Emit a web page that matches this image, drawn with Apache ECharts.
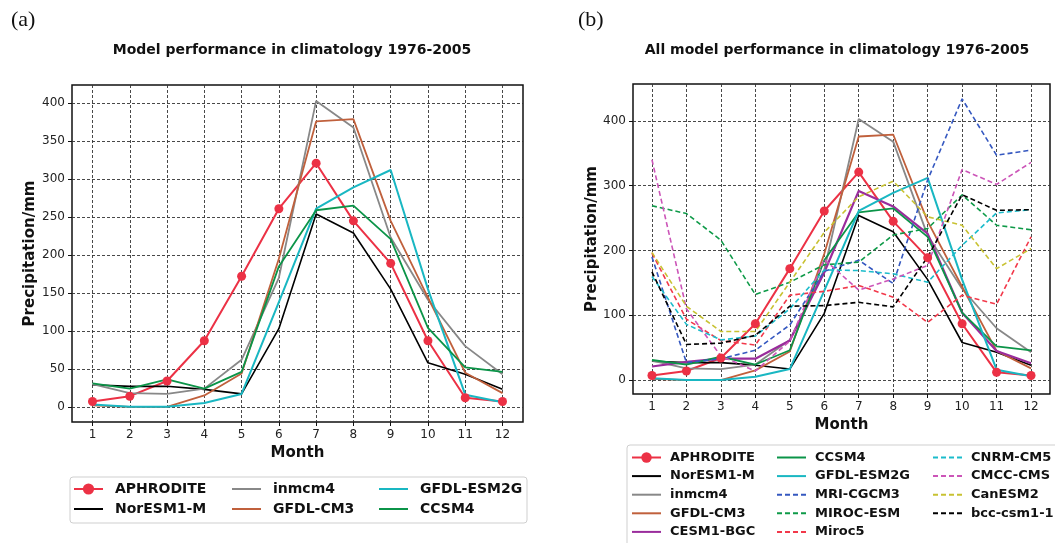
<!DOCTYPE html>
<html>
<head>
<meta charset="utf-8">
<script src="https://cdn.jsdelivr.net/npm/echarts@6/dist/echarts.min.js"></script>
<style>
  html, body { margin: 0; padding: 0; background: #fff; }
  #chart { width: 1055px; height: 543px; }
</style>
</head>
<body>
<div id="chart"></div>
<script>
// monthly climatology 1976-2005, precipitation in mm
const months = [1, 2, 3, 4, 5, 6, 7, 8, 9, 10, 11, 12];
const yTicksA = [0, 50, 100, 150, 200, 250, 300, 350, 400];
const yTicksB = [0, 100, 200, 300, 400];

const aphrodite = [7, 14, 34, 87, 172, 261, 321, 245, 189, 87, 12, 7];
const noresm1m = [29, 27, 27, 23, 17, 103, 254, 229, 155, 58, 43, 23];
const inmcm4 = [30, 18, 17, 24, 62, 170, 403, 368, 223, 141, 80, 43];
const gfdlcm3 = [2, 0, 0, 15, 44, 195, 376, 379, 245, 144, 45, 18];
const gfdlesm2g = [3, 0, 0, 5, 17, 138, 261, 289, 312, 155, 16, 6];
const ccsm4 = [31, 24, 36, 24, 46, 185, 259, 265, 221, 104, 52, 46];
const cesm1bgc = [21, 28, 33, 33, 61, 166, 292, 268, 226, 104, 45, 26];
const mricgcm3 = [190, 27, 33, 46, 85, 168, 185, 149, 309, 434, 347, 355];
const mirocesm = [269, 257, 216, 132, 151, 178, 182, 224, 234, 286, 239, 232];
const miroc5 = [196, 94, 61, 54, 131, 137, 146, 128, 89, 131, 117, 221];
const cnrmcm5 = [160, 86, 62, 68, 110, 170, 169, 164, 151, 208, 258, 263];
const cmcccms = [340, 110, 37, 14, 60, 186, 139, 156, 177, 325, 302, 336];
const canesm2 = [197, 114, 75, 75, 151, 228, 283, 307, 252, 239, 172, 203];
const bcccsm11 = [167, 55, 57, 69, 114, 115, 120, 113, 190, 286, 262, 263];

const chart = echarts.init(document.getElementById('chart'));

const FONT = 'DejaVu Sans';
const gridLine = { show: true, lineStyle: { color: '#333', width: 0.9, type: [3, 2] } };

const pairs = (vals) => months.map((m, i) => [m, vals[i]]);

// style of each model line
const models = {
  'APHRODITE': { data: aphrodite, color: '#ec3145', width: 2, type: 'solid', marker: true },
  'NorESM1-M': { data: noresm1m, color: '#000000', width: 1.6, type: 'solid' },
  'inmcm4': { data: inmcm4, color: '#888888', width: 1.8, type: 'solid' },
  'GFDL-CM3': { data: gfdlcm3, color: '#c0603c', width: 1.8, type: 'solid' },
  'GFDL-ESM2G': { data: gfdlesm2g, color: '#19b7c2', width: 2, type: 'solid' },
  'CCSM4': { data: ccsm4, color: '#0b9448', width: 1.8, type: 'solid' },
  'CESM1-BGC': { data: cesm1bgc, color: '#9a2c9c', width: 2.2, type: 'solid' },
  'MRI-CGCM3': { data: mricgcm3, color: '#3558c0', width: 1.6, type: [5, 3] },
  'MIROC-ESM': { data: mirocesm, color: '#0e9a48', width: 1.6, type: [5, 3] },
  'Miroc5': { data: miroc5, color: '#f2384a', width: 1.6, type: [5, 3] },
  'CNRM-CM5': { data: cnrmcm5, color: '#1bbccb', width: 1.6, type: [5, 3] },
  'CMCC-CMS': { data: cmcccms, color: '#cc55b8', width: 1.6, type: [5, 3] },
  'CanESM2': { data: canesm2, color: '#c8c232', width: 1.6, type: [5, 3] },
  'bcc-csm1-1': { data: bcccsm11, color: '#000000', width: 1.6, type: [5, 3] }
};

const leftNames = ['APHRODITE', 'NorESM1-M', 'inmcm4', 'GFDL-CM3', 'GFDL-ESM2G', 'CCSM4'];
const rightNames = ['APHRODITE', 'NorESM1-M', 'inmcm4', 'GFDL-CM3', 'CESM1-BGC', 'CCSM4',
  'GFDL-ESM2G', 'MRI-CGCM3', 'MIROC-ESM', 'Miroc5', 'CNRM-CM5', 'CMCC-CMS', 'CanESM2', 'bcc-csm1-1'];

function makeSeries(name, idx) {
  const m = models[name];
  return {
    name: name,
    type: 'line',
    xAxisIndex: idx,
    yAxisIndex: idx,
    data: pairs(m.data),
    symbol: m.marker ? 'circle' : 'none',
    symbolSize: 9,
    showSymbol: !!m.marker,
    itemStyle: { color: m.color },
    lineStyle: { color: m.color, width: m.width, type: m.type },
    emphasis: { disabled: true },
    animation: false
  };
}

function xAxis(idx, gap) {
  return {
    type: 'value', gridIndex: idx, min: 0.45, max: 12.55,
    name: 'Month', nameLocation: 'middle', nameGap: gap,
    nameTextStyle: { fontFamily: FONT, fontWeight: 'bold', fontSize: 15, color: '#111' },
    axisLine: { show: false, onZero: false },
    axisTick: { show: true, customValues: months, length: 4, lineStyle: { color: '#111' } },
    axisLabel: { customValues: months, fontFamily: FONT, fontSize: 12, color: '#222', margin: 7 },
    splitLine: gridLine
  };
}

function yAxis(idx, min, max, ticks, gap) {
  return {
    type: 'value', gridIndex: idx, min: min, max: max,
    name: 'Precipitation/mm', nameLocation: 'middle', nameGap: gap,
    nameTextStyle: { fontFamily: FONT, fontWeight: 'bold', fontSize: 15, color: '#111' },
    axisLine: { show: false },
    axisTick: { show: true, customValues: ticks, length: 4, lineStyle: { color: '#111' } },
    axisLabel: { customValues: ticks, fontFamily: FONT, fontSize: 12, color: '#222', margin: 7 },
    splitLine: gridLine
  };
}

// one legend per column, so the entries run down the columns like matplotlib does
function legendCol(left, top, names, size, itemH, gap, textPad) {
  return {
    orient: 'vertical', left: left, top: top, padding: 0, height: 200,
    data: names.map((n) => models[n].marker ? n : { name: n, itemStyle: { opacity: 0 } }),
    itemWidth: 29, itemHeight: itemH, itemGap: gap, selectedMode: false,
    textStyle: { fontFamily: FONT, fontWeight: 'bold', fontSize: size, color: '#111', padding: [0, 0, 0, textPad] }
  };
}

const option = {
  backgroundColor: '#fff',
  animation: false,
  title: [
    { text: '(a)', left: 6, top: 4, textStyle: { fontFamily: 'Liberation Serif', fontWeight: 'normal', fontSize: 22, color: '#111' } },
    { text: '(b)', left: 573, top: 4, textStyle: { fontFamily: 'Liberation Serif', fontWeight: 'normal', fontSize: 22, color: '#111' } },
    { text: 'Model performance in climatology 1976-2005', left: 287, top: 38, textAlign: 'center',
      textStyle: { fontFamily: FONT, fontWeight: 'bold', fontSize: 14, color: '#111' } },
    { text: 'All model performance in climatology 1976-2005', left: 832, top: 38, textAlign: 'center',
      textStyle: { fontFamily: FONT, fontWeight: 'bold', fontSize: 14, color: '#111' } }
  ],
  grid: [
    { left: 72, top: 85, width: 451, height: 337, show: true, borderColor: '#111', borderWidth: 1.5 },
    { left: 633, top: 84, width: 417, height: 310, show: true, borderColor: '#111', borderWidth: 1.5 }
  ],
  xAxis: [xAxis(0, 22), xAxis(1, 20)],
  yAxis: [yAxis(0, -20, 424, yTicksA, 34), yAxis(1, -21.5, 457, yTicksB, 20)],
  legend: [
    legendCol(73, 482, ['APHRODITE', 'NorESM1-M'], 14, 14, 6, 7),
    legendCol(231, 482, ['inmcm4', 'GFDL-CM3'], 14, 14, 6, 7),
    legendCol(378, 482, ['GFDL-ESM2G', 'CCSM4'], 14, 14, 6, 7),
    legendCol(631, 451, ['APHRODITE', 'NorESM1-M', 'inmcm4', 'GFDL-CM3', 'CESM1-BGC'], 13, 13, 5.6, 4),
    legendCol(776, 451, ['CCSM4', 'GFDL-ESM2G', 'MRI-CGCM3', 'MIROC-ESM', 'Miroc5'], 13, 13, 5.6, 4),
    legendCol(932, 451, ['CNRM-CM5', 'CMCC-CMS', 'CanESM2', 'bcc-csm1-1'], 13, 13, 5.6, 4)
  ],
  graphic: [
    { type: 'rect', shape: { x: 70, y: 477, width: 457, height: 46, r: 3 }, style: { fill: '#fff', stroke: '#cfcfcf', lineWidth: 1 }, z: -1 },
    { type: 'rect', shape: { x: 627, y: 445, width: 440, height: 120, r: 3 }, style: { fill: '#fff', stroke: '#cfcfcf', lineWidth: 1 }, z: -1 }
  ],
  series: leftNames.map((n) => makeSeries(n, 0)).concat(rightNames.map((n) => makeSeries(n, 1)))
};

chart.setOption(option);
</script>
</body>
</html>
